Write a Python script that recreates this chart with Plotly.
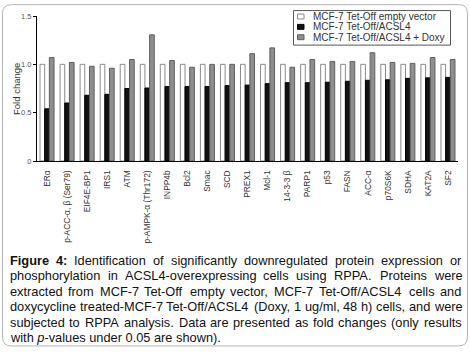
import plotly.graph_objects as go

# ---------------- data ----------------
categories = ["ERα", "p-ACC-α, β (Ser79)", "EIF4E-BP1", "IRS1", "ATM",
              "p-AMPK-α (Thr172)", "INPP4b", "Bcl2", "Smac", "SCD", "PREX1",
              "Mcl-1", "14-3-3 β", "PARP1", "p53", "FASN", "ACC-α", "p70S6K",
              "SDHA", "KAT2A", "SF2"]
empty_vector = [1.0, 1.0, 1.0, 1.0, 1.0, 1.0, 1.0, 1.0, 1.0, 1.0, 1.0,
                1.0, 1.0, 1.0, 1.0, 1.0, 1.0, 1.0, 1.0, 1.0, 1.0]
acsl4 = [0.54, 0.60, 0.68, 0.69, 0.75, 0.755, 0.77, 0.77, 0.77, 0.78, 0.785,
         0.80, 0.81, 0.81, 0.815, 0.825, 0.835, 0.84, 0.855, 0.86, 0.865]
acsl4_doxy = [1.07, 1.02, 0.98, 0.96, 1.05, 1.305, 1.04, 0.97, 1.0, 1.0, 1.11,
              1.17, 0.97, 1.05, 1.03, 1.03, 1.12, 1.02, 1.01, 1.07, 1.05]
series_names = ["MCF-7 Tet-Off empty vector", "MCF-7 Tet-Off/ACSL4",
                "MCF-7 Tet-Off/ACSL4 + Doxy"]
y_tick_vals = [0, 0.5, 1.0, 1.5]
y_tick_text = ["0", "0.5", "1.0", "1.5"]
y_title = "Fold change"
caption_lines = [
    "Figure 4: Identification of significantly downregulated protein expression or",
    "phosphorylation in ACSL4-overexpressing cells using RPPA. Proteins were",
    "extracted from MCF-7 Tet-Off empty vector, MCF-7 Tet-Off/ACSL4 cells and",
    "doxycycline treated-MCF-7 Tet-Off/ACSL4 (Doxy, 1 ug/ml, 48 h) cells, and were",
    "subjected to RPPA analysis. Data are presented as fold changes (only results",
    "with <i>p</i>-values under 0.05 are shown).",
]
caption_bold_words = ["Figure", "4:"]

# ---------------- styles ----------------
FONT = "Liberation Sans, Arial, Helvetica, sans-serif"
W, H = 470, 356
L, R, T, B = 37, 458, 14, 161
fill_colors = ["#ffffff", "#111111", "#8e8e8e"]
line_colors = ["#8a8a8a", "#000000", "#5e5e5e"]


def px(x):
    return (x - L) / (R - L)


def py(y):
    return (B - y) / (B - T)


# Arial / Liberation Sans advance widths (per 1000 em) for justification
REG = dict(zip("abcdefghijklmnopqrstuvwxyz",
               [556, 556, 500, 556, 556, 278, 556, 556, 222, 222, 500, 222, 833,
                556, 556, 556, 556, 333, 500, 278, 556, 500, 722, 500, 500, 500]))
REG.update(dict(zip("ABCDEFGHIJKLMNOPQRSTUVWXYZ",
                    [667, 667, 722, 722, 667, 611, 778, 722, 278, 500, 667, 556, 833,
                     722, 778, 667, 778, 722, 667, 611, 722, 667, 944, 667, 667, 611])))
REG.update({d: 556 for d in "0123456789"})
REG.update({" ": 278, ".": 278, ",": 278, ":": 278, "-": 333, "(": 333,
            ")": 333, "/": 278})
BOLD = {"F": 611, "i": 278, "g": 611, "u": 611, "r": 389, "e": 556, "4": 556,
        ":": 333}


def text_w(word, fs, bold=False):
    tbl = BOLD if bold else REG
    return sum(tbl.get(c, REG.get(c, 556)) for c in word) * fs / 1000.0


fig = go.Figure()
for name, vals, fc, lc in zip(series_names, [empty_vector, acsl4, acsl4_doxy],
                              fill_colors, line_colors):
    fig.add_trace(go.Bar(x=categories, y=vals, name=name, showlegend=False,
                         hoverinfo="skip",
                         marker=dict(color=fc, line=dict(color=lc, width=1))))

shapes = []
annotations = []

# outer rounded frame
x0, y0, x1, y1, r = 2.5, 2.5, 467.5, 348.5, 9
path = (f"M {px(x0+r)} {py(y0)} L {px(x1-r)} {py(y0)} Q {px(x1)} {py(y0)} {px(x1)} {py(y0+r)} "
        f"L {px(x1)} {py(y1-r)} Q {px(x1)} {py(y1)} {px(x1-r)} {py(y1)} "
        f"L {px(x0+r)} {py(y1)} Q {px(x0)} {py(y1)} {px(x0)} {py(y1-r)} "
        f"L {px(x0)} {py(y0+r)} Q {px(x0)} {py(y0)} {px(x0+r)} {py(y0)} Z")
shapes.append(dict(type="path", xref="paper", yref="paper", path=path,
                   line=dict(color="#b4b4b4", width=1)))

# manual legend
shapes.append(dict(type="rect", xref="paper", yref="paper",
                   x0=px(293.5), x1=px(450.5), y0=py(8.5), y1=py(43.5),
                   line=dict(color="#555555", width=1), fillcolor="white"))
row_y = [14.5, 25.0, 35.5]
for name, fc, lc, ry in zip(series_names, fill_colors, line_colors, row_y):
    shapes.append(dict(type="rect", xref="paper", yref="paper",
                       x0=px(297.5), x1=px(304), y0=py(ry + 2.5), y1=py(ry - 2.5),
                       line=dict(color=lc, width=1), fillcolor=fc))
    annotations.append(dict(text=name, xref="paper", yref="paper", x=px(312.5),
                            y=py(ry), xanchor="left", yanchor="middle",
                            showarrow=False, borderpad=0, borderwidth=0,
                            font=dict(family=FONT, size=10, color="#333333")))

# y-axis title
annotations.append(dict(text=y_title, xref="paper", yref="paper", x=px(17),
                        y=py(88), textangle=-90, showarrow=False,
                        xanchor="center", yanchor="middle",
                        font=dict(family=FONT, size=9.5, color="#333333")))

# caption (justified word by word)
CFS = 12.8
cx0, cx1 = 10.0, 461.5
for i, line in enumerate(caption_lines):
    ly = 261.7 + i * 15.66
    if i == len(caption_lines) - 1:
        annotations.append(dict(text=line, xref="paper", yref="paper", x=px(cx0),
                                y=py(ly), xanchor="left", yanchor="middle",
                                showarrow=False, borderpad=0, borderwidth=0,
                                font=dict(family=FONT, size=CFS, color="#111111")))
        continue
    words = line.split(" ")
    bolds = [(i == 0 and j < len(caption_bold_words) and w == caption_bold_words[j])
             for j, w in enumerate(words)]
    widths = [text_w(w, CFS, b) for w, b in zip(words, bolds)]
    gap = (cx1 - cx0 - sum(widths)) / (len(words) - 1)
    xpos = cx0
    for w, b, wd in zip(words, bolds, widths):
        annotations.append(dict(text=f"<b>{w}</b>" if b else w, xref="paper",
                                yref="paper", x=px(xpos), y=py(ly),
                                xanchor="left", yanchor="middle", showarrow=False,
                                borderpad=0, borderwidth=0,
                                font=dict(family=FONT, size=CFS, color="#111111")))
        xpos += wd + gap

fig.update_layout(
    width=W, height=H,
    margin=dict(l=L, r=W - R, t=T, b=H - B, pad=0),
    paper_bgcolor="white", plot_bgcolor="white",
    barmode="group", bargap=0.3, bargroupgap=0.0,
    showlegend=False,
    font=dict(family=FONT),
    shapes=shapes, annotations=annotations,
    xaxis=dict(showline=True, linecolor="#000000", linewidth=1, ticks="",
               tickangle=-90, tickfont=dict(family=FONT, size=8.4, color="#333333"),
               showgrid=False, zeroline=False, ticklabelstandoff=5),
    yaxis=dict(range=[0, 1.5], tickvals=y_tick_vals, ticktext=y_tick_text,
               showline=True, linecolor="#000000", linewidth=1, ticks="outside",
               ticklen=3, tickcolor="#000000", showgrid=False, zeroline=False,
               tickfont=dict(family=FONT, size=7.5, color="#555555")),
)

fig.write_html("out.html", config={"displayModeBar": False, "staticPlot": True},
               post_script="document.body.style.margin='0';document.body.style.padding='0';")
